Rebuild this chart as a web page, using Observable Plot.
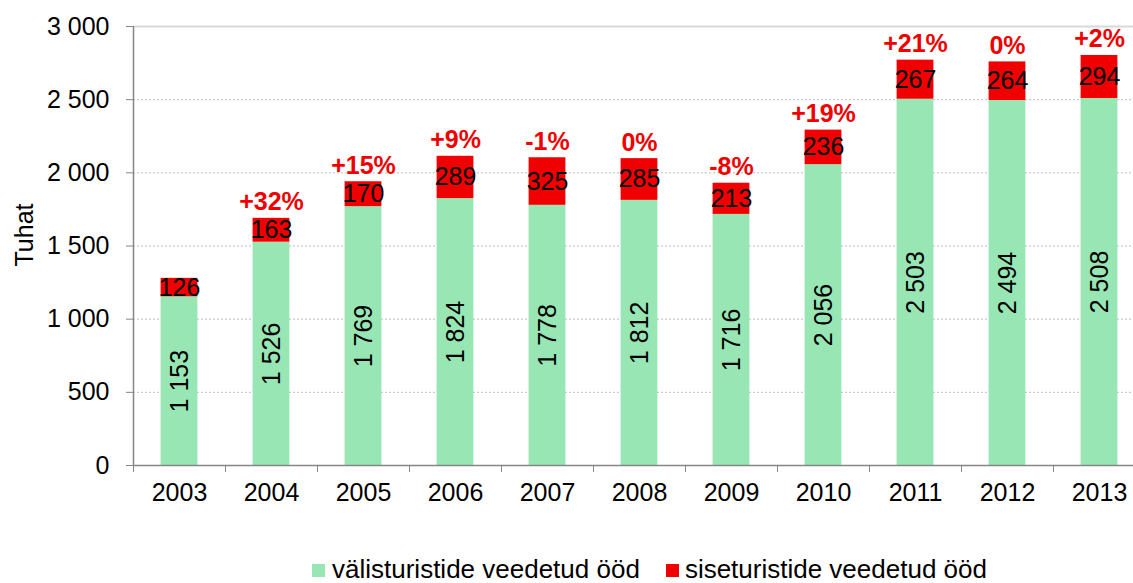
<!DOCTYPE html>
<html>
<head>
<meta charset="utf-8">
<script src="https://cdn.jsdelivr.net/npm/d3@7"></script>
<script src="https://cdn.jsdelivr.net/npm/@observablehq/plot@0.6"></script>
<style>
  html, body { margin: 0; padding: 0; background: #fff; }
  body { width: 1133px; height: 583px; overflow: hidden; font-family: "Liberation Sans", Arial, sans-serif; }
  #chart svg { display: block; }
  #legend { display: flex; align-items: center; padding-left: 312px; height: 28px; line-height: 28px; font-size: 26px; color: #000; }
  .sw { width: 13px; height: 13px; display: inline-block; margin-top: 3px; }
  .item { display: flex; align-items: center; }
</style>
</head>
<body>
<div id="chart"></div>
<div id="legend"></div>
<script>
const years = [2003, 2004, 2005, 2006, 2007, 2008, 2009, 2010, 2011, 2012, 2013];
const foreignNights = [1153, 1526, 1769, 1824, 1778, 1812, 1716, 2056, 2503, 2494, 2508];
const domesticNights = [126, 163, 170, 289, 325, 285, 213, 236, 267, 264, 294];
const changeLabels = ["", "+32%", "+15%", "+9%", "-1%", "0%", "-8%", "+19%", "+21%", "0%", "+2%"];
const yTicks = [0, 500, 1000, 1500, 2000, 2500, 3000];
const seriesNames = ["välisturistide veedetud ööd", "siseturistide veedetud ööd"];
const seriesColors = ["#98e6b4", "#f00000"];
const yTitle = "Tuhat";

const rows = years.map((year, i) => ({
  year,
  foreign: foreignNights[i],
  domestic: domesticNights[i],
  total: foreignNights[i] + domesticNights[i],
  change: changeLabels[i]
}));

const loc = d3.formatLocale({decimal: ",", thousands: " ", grouping: [3], currency: ["", ""]});
const fmt = loc.format(",");
const half = 0.2;

const chart = Plot.plot({
  width: 1133,
  height: 555,
  marginLeft: 133,
  marginRight: 0,
  marginTop: 26,
  marginBottom: 90,
  style: {fontFamily: "'Liberation Sans', Arial, sans-serif", fontSize: "25px", background: "#fff"},
  x: {type: "linear", domain: [2002.5, 2013.5], range: [133, 1145]},
  y: {domain: [0, 3000]},
  marks: [
    Plot.ruleY(yTicks.filter(t => t > 0 && t < 3000), {stroke: "#bdbdbd", strokeDasharray: "2,2", strokeWidth: 1}),
    Plot.ruleY([3000], {stroke: "#d9d9d9", strokeWidth: 2}),
    Plot.rectY(rows, {x1: d => d.year - half, x2: d => d.year + half, y1: 0, y2: "foreign", fill: seriesColors[0]}),
    Plot.rectY(rows, {x1: d => d.year - half, x2: d => d.year + half, y1: "foreign", y2: "total", fill: seriesColors[1]}),
    Plot.ruleX([2002.5], {stroke: "#868686", strokeWidth: 1.5}),
    Plot.ruleY([0], {stroke: "#868686", strokeWidth: 1.5}),
    Plot.axisY({ticks: yTicks, tickFormat: fmt, tickSize: 7, tickPadding: 17, stroke: "#868686", fill: "#000", fontSize: 25, label: null}),
    Plot.axisX({ticks: years, tickFormat: d => String(d), tickSize: 0, tickPadding: 18, fill: "#000", fontSize: 25, label: null}),
    Plot.axisX({ticks: years.map(y => y - 0.5).concat([2013.5]), tickFormat: () => "", tickSize: 7, stroke: "#868686", label: null}),
    Plot.text(rows, {x: "year", y: d => d.foreign / 2, text: d => fmt(d.foreign), rotate: -90, fill: "#000", fontSize: 25}),
    Plot.text(rows, {x: "year", y: d => d.foreign + d.domestic / 2, text: d => fmt(d.domestic), fill: "#000", fontSize: 25}),
    Plot.text(rows, {x: "year", y: "total", text: "change", fill: "#f00000", fontWeight: "bold", fontSize: 25, lineAnchor: "bottom", dy: -8}),
    Plot.text([yTitle], {frameAnchor: "left", y: () => 1575, text: d => d, rotate: -90, textAnchor: "middle", lineAnchor: "middle", dx: -109, fill: "#000", fontSize: 25})
  ]
});
document.getElementById("chart").appendChild(chart);

const legend = document.getElementById("legend");
seriesNames.forEach((name, i) => {
  const item = document.createElement("span");
  item.className = "item";
  item.style.marginRight = i === 0 ? "26px" : "0";
  const sw = document.createElement("span");
  sw.className = "sw";
  sw.style.background = seriesColors[i];
  sw.style.marginRight = i === 0 ? "7px" : "6px";
  const t = document.createElement("span");
  t.textContent = name;
  item.appendChild(sw);
  item.appendChild(t);
  legend.appendChild(item);
});
</script>
</body>
</html>
